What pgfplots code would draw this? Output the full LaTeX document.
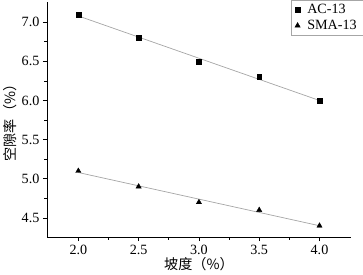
\documentclass[border=0pt]{standalone}
\usepackage{pgfplots}
\pgfplotsset{compat=1.18}
\usepackage{fontspec}
\setmainfont{Liberation Serif}
\newfontfamily\cjk{Noto Sans CJK SC}
\begin{document}
\begin{tikzpicture}
\begin{axis}[
  scale only axis,
  width=301pt, height=233pt,
  xmin=1.74, xmax=4.26,
  ymin=4.255, ymax=7.26,
  axis x line*=bottom, axis y line*=left,
  axis line style={-, line width=0.7pt},
  xtick={2,2.5,3,3.5,4},
  ytick={4.5,5,5.5,6,6.5,7},
  minor x tick num=1, minor y tick num=1,
  tick align=outside,
  major tick length=4pt, minor tick length=2.5pt,
  tick style={black, line width=0.7pt},
  xticklabel style={/pgf/number format/.cd, fixed, fixed zerofill, precision=1},
  yticklabel style={/pgf/number format/.cd, fixed, fixed zerofill, precision=1},
  /pgf/number format/assume math mode=true,
  ticklabel style={font=\fontsize{14}{15}\selectfont},
  xlabel={\cjk 坡度（\%）},
  ylabel={\cjk 空隙率（\%）},
  label style={font=\fontsize{14}{15}\selectfont},
  xlabel style={yshift=4pt},
  ylabel style={yshift=-2pt},
  legend style={at={(1.04,1.008)}, anchor=north east, draw=gray!70, font=\fontsize{14}{15}\selectfont, row sep=1pt, inner xsep=4pt, inner ysep=2pt,
    /tikz/every odd column/.append style={column sep=5pt}},
  legend cell align=left,
  clip=false,
]
\addplot[gray!70, line width=0.7pt, forget plot] coordinates {(2,7.08) (4,6.00)};
\addplot[gray!70, line width=0.7pt, forget plot] coordinates {(2,5.08) (4,4.40)};
\addplot[only marks, mark=square*, mark size=2.4pt, black] coordinates {(2,7.1) (2.5,6.8) (3,6.5) (3.5,6.3) (4,6.0)};
\addlegendentry{AC-13}
\addplot[only marks, mark=triangle*, mark size=3pt, black] coordinates {(2,5.1) (2.5,4.9) (3,4.7) (3.5,4.6) (4,4.4)};
\addlegendentry{SMA-13}
\end{axis}
\end{tikzpicture}
\end{document}
